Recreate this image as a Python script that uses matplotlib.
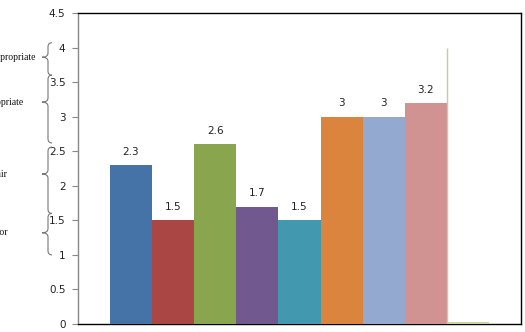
import matplotlib
matplotlib.use('Agg')
import matplotlib.pyplot as plt
from matplotlib.path import Path
from matplotlib.patches import PathPatch
import matplotlib.transforms as mtransforms

# data
values = [2.3, 1.5, 2.6, 1.7, 1.5, 3.0, 3.0, 3.2, 0.035]
value_labels = ['2.3', '1.5', '2.6', '1.7', '1.5', '3', '3', '3.2', '']
colors = ['#4572A7', '#AA4643', '#89A54E', '#71588F', '#4198AF',
          '#DB843D', '#93A9CF', '#D19392', '#C9D5A3']
yticks = [0, 0.5, 1, 1.5, 2, 2.5, 3, 3.5, 4, 4.5]
ytick_labels = ['0', '0.5', '1', '1.5', '2', '2.5', '3', '3.5', '4', '4.5']
marker_line_top = 4.0

# rating braces: (bottom, top, tip, label)
brace_ranges = [(3.6, 4.07, 3.86, 'Very appropriate'),
                (2.62, 3.6, 3.21, 'Appropriate'),
                (1.6, 2.56, 2.17, 'Fair'),
                (1.0, 1.6, 1.32, 'Poor')]
# where each label ends (pixels from left edge); the left part runs off the page
label_right_px = [35, 24, 8, 8]

fig = plt.figure(figsize=(5.25, 3.32), dpi=100)
ax = fig.add_axes([78/525, 8/332, 443/525, 311/332])

x = list(range(len(values)))
ax.bar(x, values, width=1.0, color=colors, zorder=3)
ax.vlines(len(values) - 1.5, 0, marker_line_top, color='#C9C9A5', lw=1.0, zorder=4)

for xi, v, lab in zip(x, values, value_labels):
    if lab:
        ax.annotate(lab, (xi, v), xytext=(0, 6), textcoords='offset points',
                    ha='center', va='bottom', fontsize=7.5, color='#222222')

ax.set_xlim(-1.26, len(values) - 0.5 + 0.76)
ax.set_ylim(0, 4.5)
ax.set_xticks([])
ax.set_yticks(yticks)
ax.set_yticklabels(ytick_labels, fontsize=7.5, color='#222222')
ax.tick_params(axis='y', length=4, width=0.8, color='#888888', pad=5)

for s in ['top', 'right', 'bottom']:
    ax.spines[s].set_color('black')
    ax.spines[s].set_linewidth(1.0)
ax.spines['left'].set_color('#888888')
ax.spines['left'].set_linewidth(1.0)

# braces on the left, x in figure fraction, y in data
trans = mtransforms.blended_transform_factory(fig.transFigure, ax.transData)
x0 = 48/525
dx = 4/525
dy = 0.06
for (lo, hi, tip, label), rx in zip(brace_ranges, label_right_px):
    verts = [(x0 + dx, hi), (x0, hi), (x0, hi - dy),
             (x0, tip + dy), (x0, tip), (x0 - 1.5 * dx, tip),
             (x0, tip), (x0, tip - dy),
             (x0, lo + dy), (x0, lo), (x0 + dx, lo)]
    codes = [Path.MOVETO, Path.CURVE3, Path.CURVE3,
             Path.LINETO, Path.CURVE3, Path.CURVE3,
             Path.CURVE3, Path.CURVE3,
             Path.LINETO, Path.CURVE3, Path.CURVE3]
    patch = PathPatch(Path(verts, codes), transform=trans, fill=False,
                      edgecolor='#777777', lw=0.8, clip_on=False)
    fig.add_artist(patch)
    fig.text(rx/525, tip, label, transform=trans, ha='right', va='center',
             fontsize=7, family='Liberation Serif', color='#111111')

fig.savefig('out.png', dpi=100)
